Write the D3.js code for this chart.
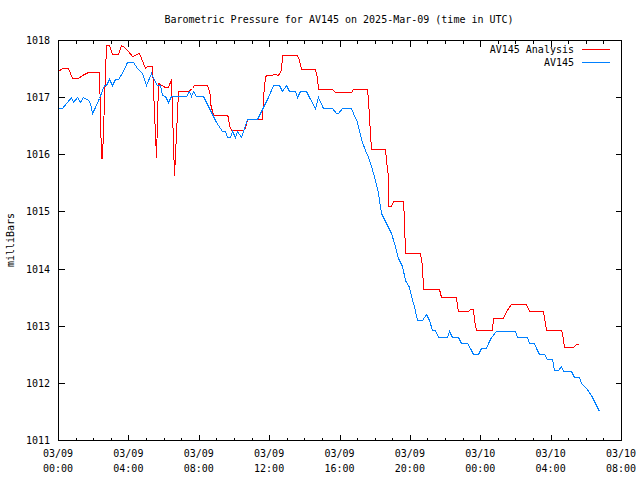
<!DOCTYPE html>
<html><head><meta charset="utf-8">
<script src="https://cdn.jsdelivr.net/npm/d3@7"></script>
<style>
body{margin:0;background:#fff}
svg{display:block;background:#fff}
text{font-family:"DejaVu Sans Mono","Liberation Mono",monospace;font-size:10px;fill:#000}
</style>
</head><body><svg id="chart" width="640" height="480"></svg>
<script>
const chartTitle = "Barometric Pressure for AV145 on 2025-Mar-09 (time in UTC)";
const yAxisLabel = "milliBars";
const seriesNames = ["AV145 Analysis", "AV145"];
const seriesColors = ["#ff0000", "#0080ff"];
const startTime = "2025-03-09T00:00:00Z";
const endTime = "2025-03-10T08:00:00Z";
const yTickValues = [1011, 1012, 1013, 1014, 1015, 1016, 1017, 1018];

// minutes after 2025-03-09 00:00 UTC
const analysisMinutes = [0,13,34,47,68,81,102,140,147,150,164,174,184,205,215,225,239,251,277,297,302,319,334,342,365,376,384,396,408,444,456,464,507,512,518,520,527,575,580,584,589,632,637,645,694,700,705,711,722,739,751,759,765,816,821,827,876,882,887,936,944,998,1005,1054,1056,1061,1066,1115,1118,1124,1126,1134,1144,1177,1179,1185,1236,1241,1245,1299,1306,1356,1360,1365,1399,1404,1416,1418,1425,1479,1484,1516,1529,1545,1596,1607,1654,1664,1717,1720,1726,1757,1768,1775];
const analysisValues = [1017.45,1017.51,1017.51,1017.33,1017.33,1017.39,1017.44,1017.44,1015.94,1015.94,1017.91,1017.91,1017.75,1017.75,1017.91,1017.88,1017.81,1017.72,1017.77,1017.51,1017.55,1017.55,1015.96,1017.24,1017.18,1017.18,1017.31,1015.64,1017.11,1017.11,1017.16,1017.21,1017.21,1017.16,1017.04,1016.89,1016.69,1016.69,1016.65,1016.52,1016.43,1016.43,1016.46,1016.61,1016.61,1017.01,1017.36,1017.39,1017.38,1017.41,1017.39,1017.48,1017.74,1017.74,1017.65,1017.49,1017.49,1017.33,1017.14,1017.14,1017.09,1017.09,1017.14,1017.14,1016.97,1016.63,1016.10,1016.10,1015.90,1015.61,1015.09,1015.09,1015.19,1015.19,1014.85,1014.28,1014.28,1014.07,1013.64,1013.64,1013.50,1013.50,1013.37,1013.26,1013.26,1013.29,1013.29,1013.10,1012.93,1012.93,1013.13,1013.13,1013.25,1013.38,1013.38,1013.26,1013.26,1012.93,1012.93,1012.87,1012.63,1012.63,1012.68,1012.68];

const av145Minutes = [0,13,30,43,52,64,75,86,103,109,117,126,141,157,164,175,185,195,206,221,236,257,270,285,300,316,327,336,347,353,364,376,387,438,447,455,459,472,495,504,517,539,558,568,577,586,595,602,611,623,632,645,677,686,700,717,734,754,764,776,787,808,816,825,847,856,878,887,904,936,948,955,967,998,1007,1018,1027,1037,1046,1058,1069,1080,1092,1103,1120,1134,1145,1160,1174,1185,1196,1208,1214,1225,1243,1254,1264,1276,1287,1296,1327,1333,1343,1365,1376,1395,1404,1416,1433,1444,1458,1467,1478,1493,1558,1566,1598,1607,1625,1631,1642,1656,1666,1686,1693,1705,1714,1722,1751,1760,1776,1785,1800,1817,1831,1845];
const av145Values = [1016.81,1016.81,1016.92,1017.01,1016.92,1017.01,1016.92,1017.01,1016.95,1016.89,1016.73,1016.83,1016.98,1017.21,1017.21,1017.31,1017.21,1017.31,1017.31,1017.45,1017.61,1017.61,1017.51,1017.42,1017.21,1017.42,1017.30,1017.21,1017.21,1017.04,1017.02,1016.92,1017.02,1017.02,1017.10,1017.02,1017.10,1017.02,1017.02,1016.92,1016.78,1016.57,1016.40,1016.40,1016.31,1016.31,1016.40,1016.31,1016.40,1016.31,1016.40,1016.61,1016.61,1016.68,1016.83,1017.01,1017.21,1017.21,1017.10,1017.21,1017.10,1017.10,1017.01,1017.10,1017.10,1017.01,1016.81,1017.01,1016.81,1016.81,1016.72,1016.72,1016.81,1016.81,1016.72,1016.57,1016.40,1016.22,1016.08,1015.96,1015.79,1015.55,1015.32,1014.97,1014.80,1014.62,1014.45,1014.18,1014.04,1013.80,1013.68,1013.45,1013.34,1013.10,1013.10,1013.20,1013.10,1012.92,1012.92,1012.81,1012.81,1012.90,1012.81,1012.81,1012.70,1012.70,1012.61,1012.51,1012.51,1012.61,1012.61,1012.70,1012.80,1012.90,1012.90,1012.80,1012.80,1012.70,1012.70,1012.61,1012.51,1012.51,1012.41,1012.41,1012.22,1012.22,1012.29,1012.21,1012.21,1012.10,1012.10,1012.00,1011.91,1011.79,1011.65,1011.50];

const L = 58, R = 621, T = 40, B = 440;
const svg = d3.select("#chart");
const t0 = new Date(startTime), t1 = new Date(endTime);
const toDate = m => new Date(t0.getTime() + m * 60000);

const x = d3.scaleUtc().domain([t0, t1]).range([L, R]);
const y = d3.scaleLinear().domain([1011, 1018]).range([B, T]);

const g = svg.append("g").attr("transform", "translate(0.5,0.5)");

// title
svg.append("text").attr("x", 339).attr("y", 23).attr("text-anchor", "middle").text(chartTitle);
// y label
svg.append("text").attr("transform", "translate(14,240) rotate(-90)").attr("text-anchor", "middle").text(yAxisLabel);

// ticks
const majorTicks = x.ticks(d3.utcHour.every(4));
const minorTicks = x.ticks(d3.utcHour.every(1));
const tg = g.append("g").attr("stroke", "#000").attr("shape-rendering", "crispEdges");
minorTicks.forEach(d => {
  const isMajor = majorTicks.some(m => +m === +d);
  const len = isMajor ? 6 : 3;
  const px = Math.round(x(d));
  tg.append("line").attr("x1", px).attr("x2", px).attr("y1", B).attr("y2", B - len);
  tg.append("line").attr("x1", px).attr("x2", px).attr("y1", T).attr("y2", T + len);
});
yTickValues.forEach(v => {
  const py = Math.round(y(v));
  tg.append("line").attr("x1", L).attr("x2", L + 6).attr("y1", py).attr("y2", py);
  tg.append("line").attr("x1", R).attr("x2", R - 6).attr("y1", py).attr("y2", py);
});

// tick labels
const fmtDay = d3.utcFormat("%m/%d"), fmtHour = d3.utcFormat("%H:%M");
majorTicks.forEach(d => {
  svg.append("text").attr("x", x(d)).attr("y", 457).attr("text-anchor", "middle").text(fmtDay(d));
  svg.append("text").attr("x", x(d)).attr("y", 472).attr("text-anchor", "middle").text(fmtHour(d));
});
yTickValues.forEach(v => {
  svg.append("text").attr("x", 50).attr("y", y(v) + 4).attr("text-anchor", "end").text(v);
});

// series
const line = d3.line().x(d => Math.round(x(d[0]))).y(d => Math.round(y(d[1])));
const analysisData = analysisMinutes.map((m, i) => [toDate(m), analysisValues[i]]);
const av145Data = av145Minutes.map((m, i) => [toDate(m), av145Values[i]]);
[analysisData, av145Data].forEach((data, i) => {
  g.append("path").datum(data).attr("d", line)
    .attr("fill", "none").attr("stroke", seriesColors[i]).attr("stroke-width", 1)
    .attr("shape-rendering", "crispEdges");
});

// frame
g.append("rect").attr("x", L).attr("y", T).attr("width", R - L).attr("height", B - T)
  .attr("fill", "none").attr("stroke", "#000").attr("shape-rendering", "crispEdges");

// legend
const legendY = [49, 62];
seriesNames.forEach((name, i) => {
  svg.append("text").attr("x", 574).attr("y", legendY[i] + 4).attr("text-anchor", "end").text(name);
  g.append("line").attr("x1", 581).attr("x2", 609).attr("y1", legendY[i]).attr("y2", legendY[i])
    .attr("stroke", seriesColors[i]).attr("shape-rendering", "crispEdges");
});
</script>
</body></html>
